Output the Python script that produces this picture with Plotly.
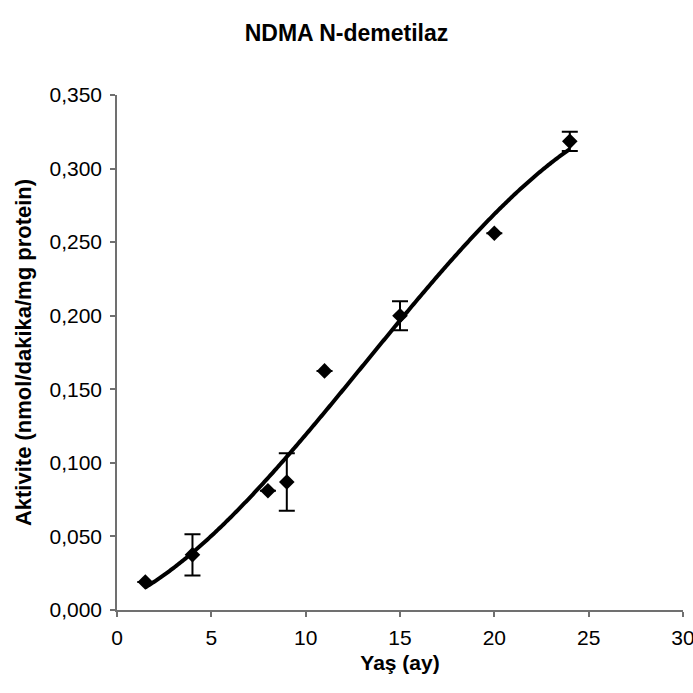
import numpy as np
import plotly.graph_objects as go

# Data
age_months = [1.5, 4, 8, 9, 11, 15, 20, 24]
activity = [0.019, 0.0375, 0.081, 0.087, 0.1625, 0.200, 0.256, 0.3185]
activity_err = [None, 0.014, None, 0.0195, None, 0.0098, None, 0.0065]

x_tick_vals = [0, 5, 10, 15, 20, 25, 30]
x_tick_labels = ["0", "5", "10", "15", "20", "25", "30"]
y_tick_vals = [0.0, 0.05, 0.10, 0.15, 0.20, 0.25, 0.30, 0.35]
y_tick_labels = ["0,000", "0,050", "0,100", "0,150", "0,200", "0,250", "0,300", "0,350"]

title_text = "NDMA N-demetilaz"
x_title = "Yaş (ay)"
y_title = "Aktivite (nmol/dakika/mg protein)"

# Polynomial (order 3) trendline fitted to the data, as in the original spreadsheet chart
coef = np.polyfit(age_months, activity, 3)
trend_x = np.linspace(min(age_months), max(age_months), 300)
trend_y = np.polyval(coef, trend_x)

err_array = [e if e is not None else 0 for e in activity_err]

FONT = "Arial, 'Liberation Sans', sans-serif"

fig = go.Figure()
fig.add_trace(go.Scatter(
    x=trend_x, y=trend_y, mode="lines",
    line=dict(color="black", width=4, simplify=False),
    hoverinfo="skip", showlegend=False,
))
fig.add_trace(go.Scatter(
    x=age_months, y=activity, mode="markers",
    marker=dict(symbol="diamond", size=12, color="black"),
    error_y=dict(type="data", array=err_array, visible=True,
                 color="black", thickness=2, width=8),
    showlegend=False,
))

axis_color = "#707070"
fig.update_layout(
    width=693, height=693,
    paper_bgcolor="white", plot_bgcolor="white",
    margin=dict(l=117, r=10, t=95, b=83),
    font=dict(family=FONT, size=21, color="black"),
    title=dict(text="<b>" + title_text + "</b>", x=0.5, xanchor="center",
               y=1 - 33 / 693, yanchor="middle",
               font=dict(family=FONT, size=23, color="black")),
    showlegend=False,
)
fig.update_xaxes(
    range=[0, 30], tickvals=x_tick_vals, ticktext=x_tick_labels,
    showgrid=False, zeroline=False, automargin=False,
    showline=True, linecolor=axis_color, linewidth=1.5,
    ticks="outside", ticklen=5, tickcolor=axis_color, tickwidth=1.5,
    ticklabelstandoff=3, ticklabeloverflow="allow",
    tickfont=dict(family=FONT, size=21, color="black"),
    title=dict(text="<b>" + x_title + "</b>", standoff=7,
               font=dict(family=FONT, size=21, color="black")),
)
fig.update_yaxes(
    range=[0, 0.35], tickvals=y_tick_vals, ticktext=y_tick_labels,
    showgrid=False, zeroline=False, automargin=False,
    showline=True, linecolor=axis_color, linewidth=1.5,
    ticks="outside", ticklen=5, tickcolor=axis_color, tickwidth=1.5,
    ticklabelstandoff=4, ticklabeloverflow="allow",
    tickfont=dict(family=FONT, size=21, color="black"),
    title=dict(text="<b>" + y_title + "</b>", standoff=12,
               font=dict(family=FONT, size=22, color="black")),
)

fig.write_html("out.html", config={"displayModeBar": False},
               post_script="document.body.style.margin='0';")
